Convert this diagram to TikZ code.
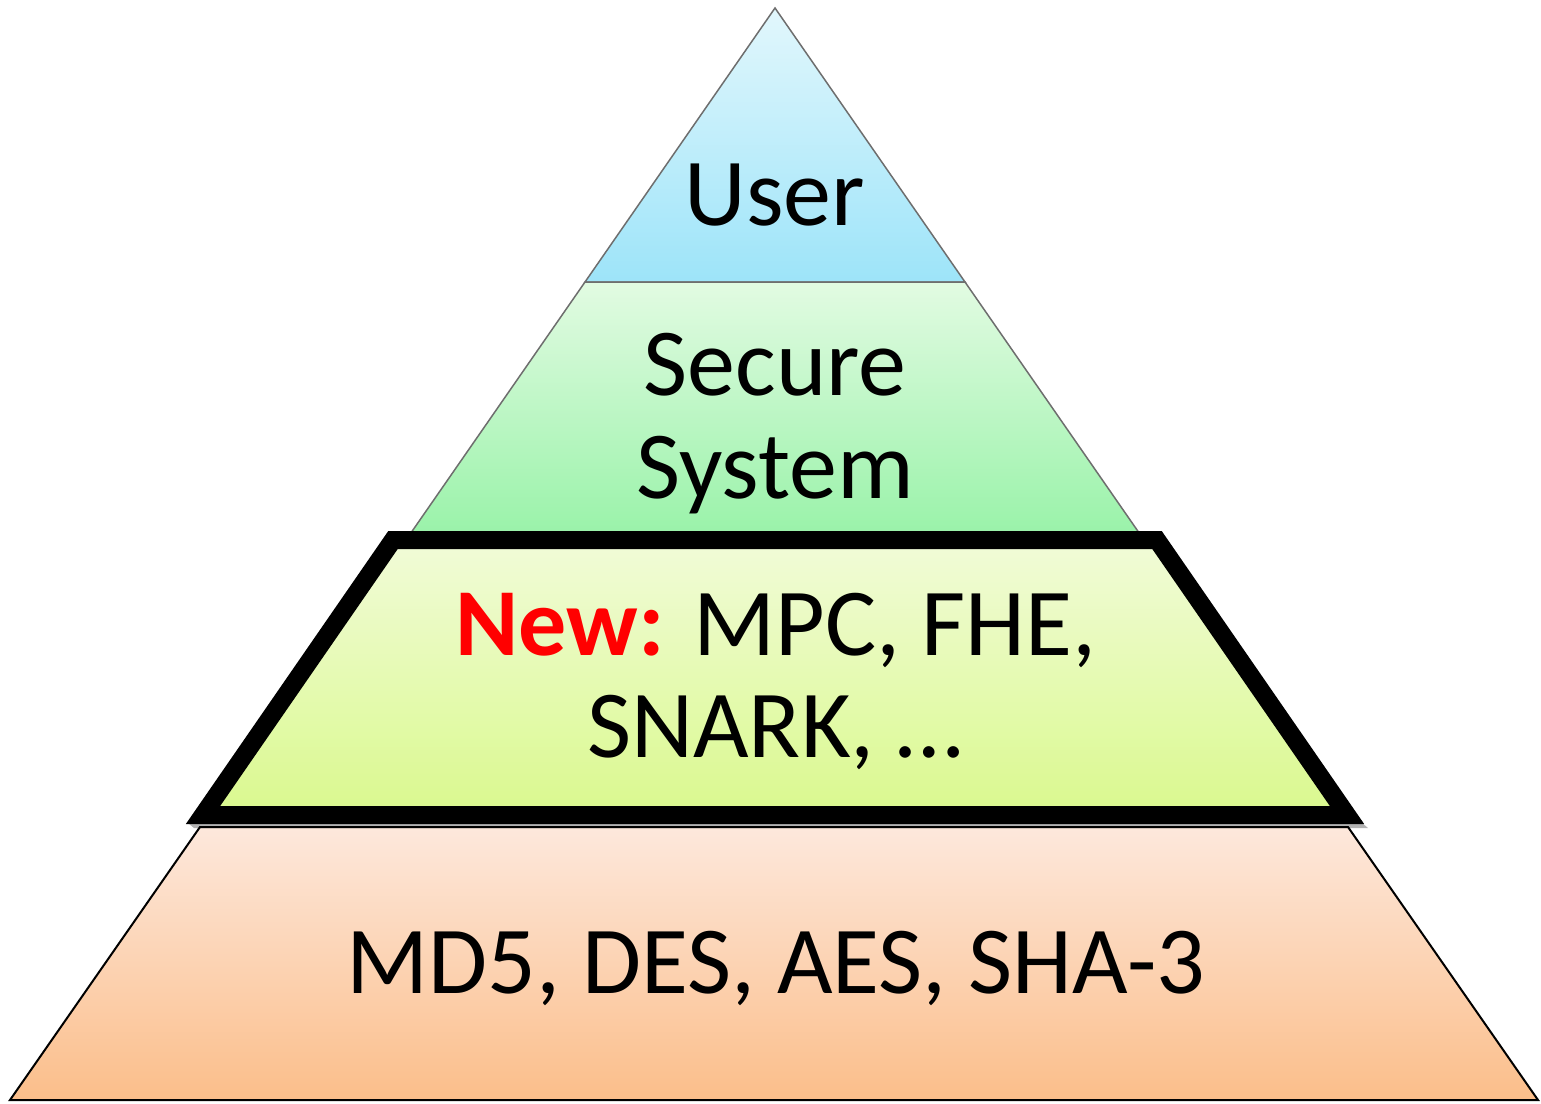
\documentclass[tikz,border=0pt]{standalone}
\usepackage{fontspec}
\setmainfont{Carlito}
\definecolor{edgegray}{HTML}{6E6E6E}
\definecolor{usertop}{HTML}{E2F7FC}
\definecolor{userbot}{HTML}{9DE4F9}
\definecolor{sectop}{HTML}{E2FBE2}
\definecolor{secbot}{HTML}{98F2A8}
\definecolor{newtop}{HTML}{F1FBD8}
\definecolor{newbot}{HTML}{DAF98E}
\definecolor{bastop}{HTML}{FDE8DC}
\definecolor{basbot}{HTML}{FBBE8A}
\begin{document}
\begin{tikzpicture}[x=0.5pt,y=-0.5pt,
  layer/.style={draw=edgegray,line width=0.75pt,line join=miter},
  lbl/.style={anchor=base,inner sep=0pt,font=\fontsize{48}{51.5}\selectfont}]
\useasboundingbox (0,0) rectangle (1541,1103);
% top layer
\draw[layer,top color=usertop,bottom color=userbot] (775,8) -- (965,282) -- (585,282) -- cycle;
% second layer
\draw[layer,top color=sectop,bottom color=secbot] (585,282) -- (965,282) -- (1144,540) -- (406,540) -- cycle;
% base layer
\draw[draw=black,line width=1pt,top color=bastop,bottom color=basbot] (200,827) -- (1348,827) -- (1538,1100) -- (10,1100) -- cycle;
% shadow of the framed layer
\fill[black,opacity=0.3] (188,823) -- (1362,823) -- (1368,828) -- (194,828) -- cycle;
% framed layer
\draw[line width=9pt,line join=miter,top color=newtop,bottom color=newbot] (393,540) -- (1157,540) -- (1347,815) -- (203,815) -- cycle;
% labels
\node[lbl] (user) at (775,225) {User};
\node[lbl] (secure) at (775,395) {Secure};
\node[lbl] (system) at (775,498) {System};
\node[lbl] (newA) at (776,655) {\textcolor{red}{\bfseries New:} MPC, FHE,};
\node[lbl] (newB) at (775,757) {SNARK, …};
\node[lbl] (base) at (776,993) {MD5, DES, AES, SHA-3};
\end{tikzpicture}
\end{document}
